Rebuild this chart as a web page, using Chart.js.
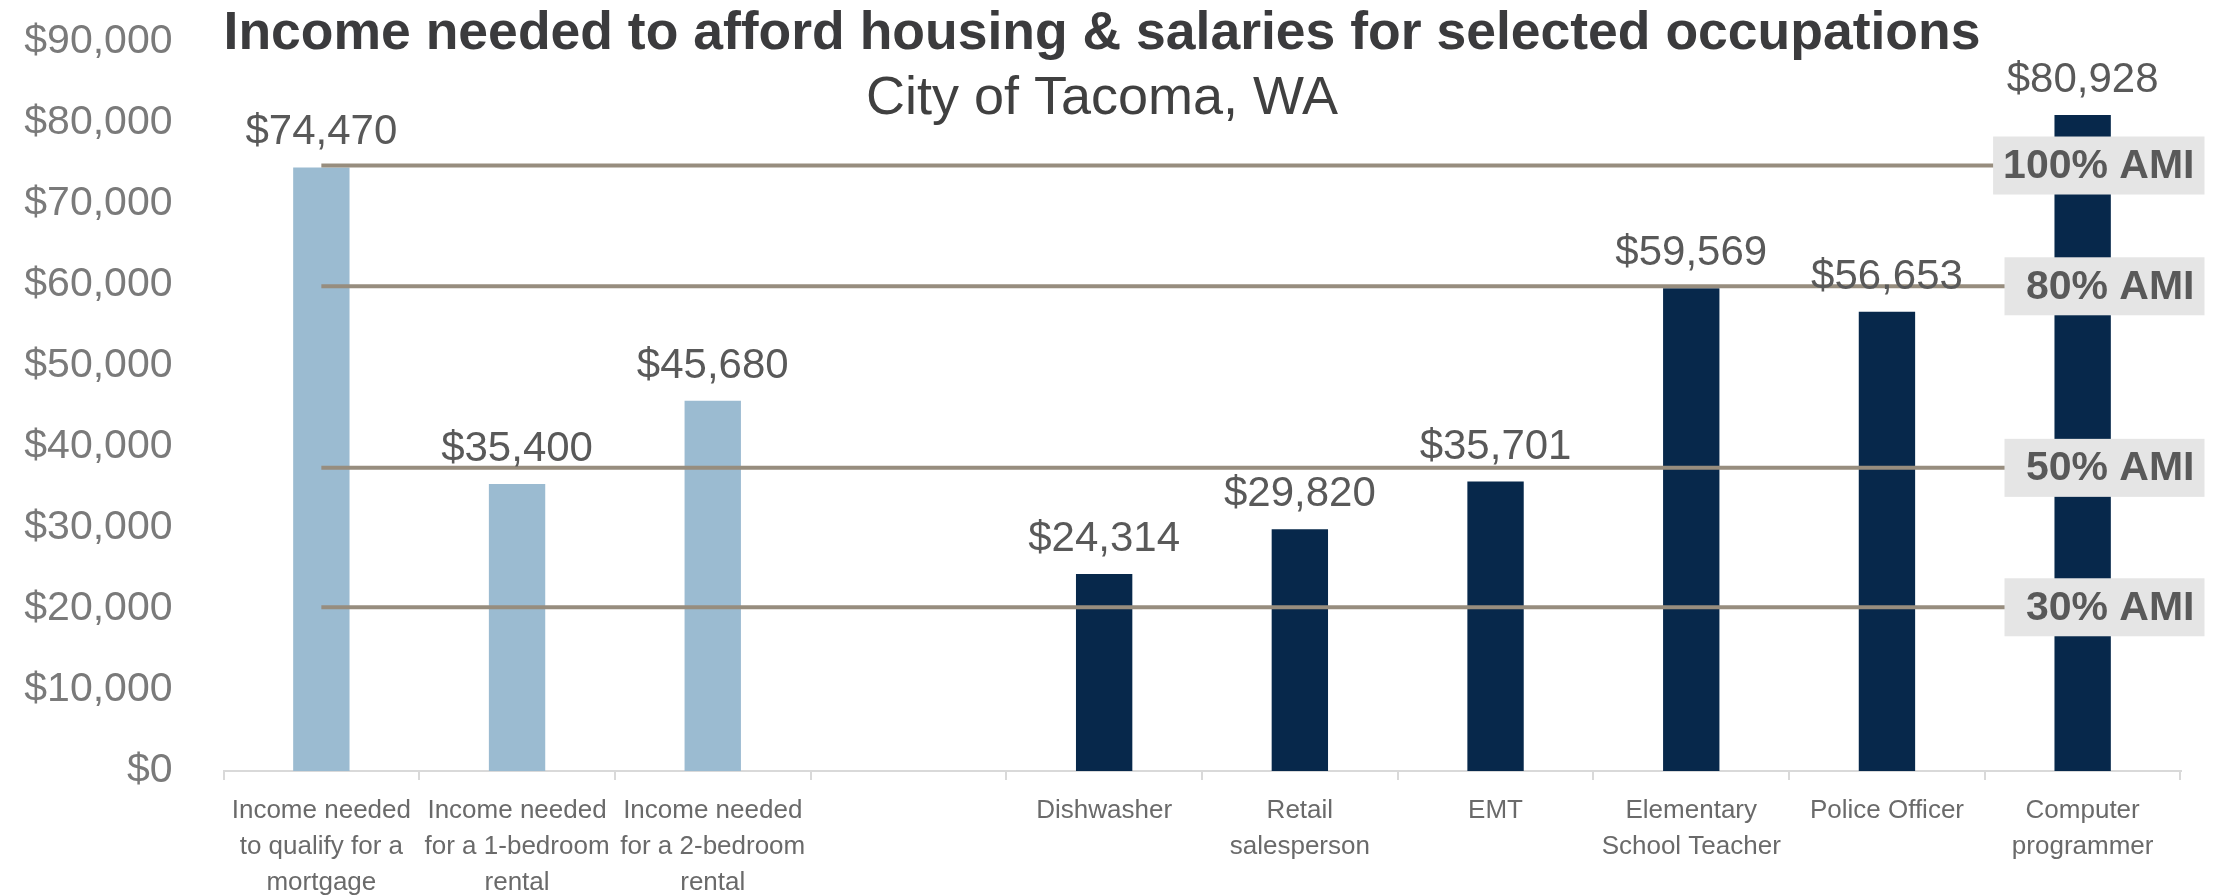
<!DOCTYPE html>
<html>
<head>
<meta charset="utf-8">
<title>Income needed to afford housing</title>
<script src="https://cdn.jsdelivr.net/npm/chart.js@4.4.1/dist/chart.umd.min.js"></script>
<style>
    body { margin: 0; background: #fff; }
    #wrap { width: 2221px; height: 896px; position: relative; }
</style>
</head>
<body>
<div id="wrap"><canvas id="myChart"></canvas></div>
<script>
let categories = [
    ['Income needed', 'to qualify for a', 'mortgage'],
    ['Income needed', 'for a 1-bedroom', 'rental'],
    ['Income needed', 'for a 2-bedroom', 'rental'],
    '',
    'Dishwasher',
    ['Retail', 'salesperson'],
    'EMT',
    ['Elementary', 'School Teacher'],
    'Police Officer',
    ['Computer', 'programmer']
]
let housingValues = [74470, 35400, 45680]
let jobValues = [24314, 29820, 35701, 59569, 56653, 80928]
let amiValues = [74700, 59800, 37400, 20200]
let amiLabels = ['100% AMI', '80% AMI', '50% AMI', '30% AMI']
let yTickValues = [0, 10000, 20000, 30000, 40000, 50000, 60000, 70000, 80000, 90000]
let titleText = 'Income needed to afford housing & salaries for selected occupations'
let subtitleText = 'City of Tacoma, WA'

let fontName = '"Liberation Sans", Arial, sans-serif'

// one dataset, the blank slot between housing and jobs stays empty
let values = housingValues.concat([null], jobValues)
let colors = []
for (let i = 0; i < values.length; i++){
    colors.push(i < housingValues.length ? '#9bbbd1' : '#07284b')
}

function money(v){
    return '$' + v.toLocaleString('en-US')
}

let overlayPlugin = {
    id: 'overlay',
    afterDatasetsDraw(chart){
        let ctx = chart.ctx
        let x = chart.scales.x
        let y = chart.scales.y
        let area = chart.chartArea
        ctx.save()

        // AMI reference lines
        ctx.strokeStyle = '#978d7e'
        ctx.lineWidth = 4
        for (let i = 0; i < amiValues.length; i++){
            let py = y.getPixelForValue(amiValues[i])
            ctx.beginPath()
            ctx.moveTo(x.getPixelForValue(0), py)
            ctx.lineTo(area.right, py)
            ctx.stroke()
        }

        // AMI boxes
        let boxRight = area.right + 24
        ctx.font = 'bold 41px ' + fontName
        ctx.textAlign = 'right'
        ctx.textBaseline = 'middle'
        for (let i = 0; i < amiValues.length; i++){
            let py = y.getPixelForValue(amiValues[i])
            let tw = ctx.measureText(amiLabels[i]).width
            let bw = Math.max(tw + 20, 200)
            ctx.fillStyle = '#e5e5e5'
            ctx.fillRect(boxRight - bw, py - 29, bw, 58)
            ctx.fillStyle = '#595959'
            ctx.fillText(amiLabels[i], boxRight - 10, py + 1)
        }

        // value labels above bars
        let meta = chart.getDatasetMeta(0)
        ctx.font = '42px ' + fontName
        ctx.fillStyle = '#595959'
        ctx.textAlign = 'center'
        ctx.textBaseline = 'alphabetic'
        meta.data.forEach(function (bar, i){
            if (values[i] == null) return
            ctx.fillText(money(values[i]), bar.x, bar.y - 23)
        })

        // title + subtitle
        ctx.fillStyle = '#3b3b3d'
        ctx.font = 'bold 53.5px ' + fontName
        ctx.fillText(titleText, 1102, 49)
        ctx.fillStyle = '#404040'
        ctx.font = '54px ' + fontName
        ctx.fillText(subtitleText, 1102, 114)

        ctx.restore()
    }
}

let ctx = document.getElementById('myChart').getContext('2d')
let chart = new Chart(ctx, {
    type: 'bar',
    data: {
        labels: categories,
        datasets: [{
            data: values,
            backgroundColor: colors,
            borderWidth: 0,
            categoryPercentage: 1,
            barPercentage: 0.288
        }]
    },
    options: {
        responsive: true,
        maintainAspectRatio: false,
        animation: false,
        layout: {
            padding: {top: 41.5, right: 40.5, left: 0, bottom: 0}
        },
        plugins: {
            legend: {display: false},
            tooltip: {enabled: false}
        },
        scales: {
            x: {
                grid: {
                    display: true,
                    drawOnChartArea: false,
                    drawTicks: true,
                    tickLength: 9,
                    color: '#d9d9d9',
                    lineWidth: 2,
                    offset: true
                },
                border: {display: true, color: '#d9d9d9', width: 2},
                ticks: {
                    color: '#6a6a6a',
                    font: {size: 26, family: fontName, lineHeight: '36px'},
                    padding: 13,
                    autoSkip: false,
                    maxRotation: 0,
                    minRotation: 0
                },
                afterFit: function (scale){
                    scale.height = 125
                    scale.paddingLeft = 0
                    scale.paddingRight = 0
                }
            },
            y: {
                min: 0,
                max: 90000,
                afterBuildTicks: function (scale){
                    scale.ticks = yTickValues.map(function (v){ return {value: v} })
                },
                ticks: {
                    color: '#7a7a7a',
                    font: {size: 41, family: fontName},
                    padding: 51,
                    callback: function (v){ return money(v) }
                },
                grid: {display: false, drawTicks: false},
                border: {display: false},
                afterFit: function (scale){
                    scale.width = 223.5
                    scale.paddingTop = 0
                    scale.paddingBottom = 0
                }
            }
        }
    },
    plugins: [overlayPlugin]
})
</script>
</body>
</html>
